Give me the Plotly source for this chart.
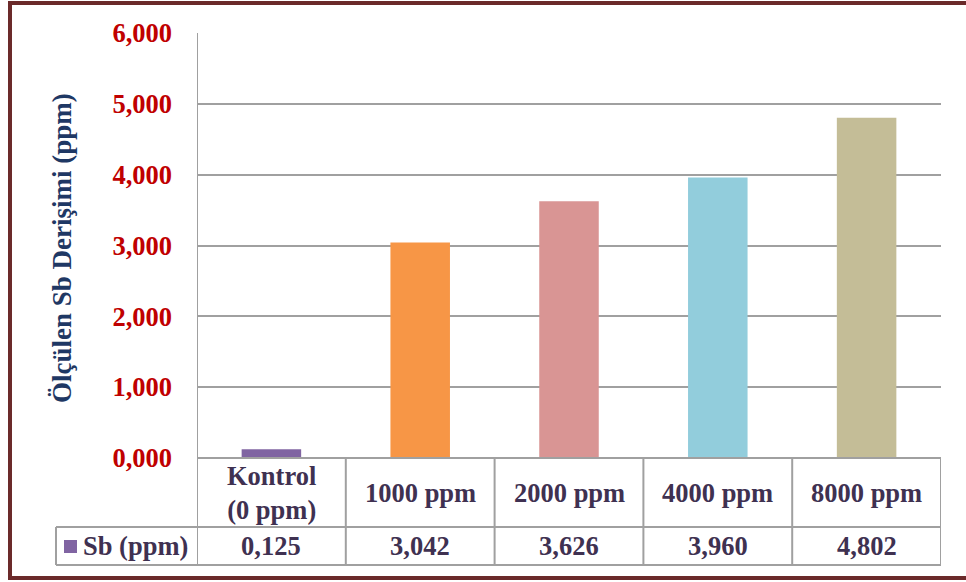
import plotly.graph_objects as go

# Measured antimony (Sb) concentrations per treatment
categories = ["Kontrol<br>(0 ppm)", "1000 ppm", "2000 ppm", "4000 ppm", "8000 ppm"]
sb_values = [0.125, 3.042, 3.626, 3.960, 4.802]
bar_colors = ["#8064A2", "#F79646", "#D99594", "#92CDDC", "#C4BD97"]
series_name = "Sb (ppm)"
y_title = "Ölçülen Sb Derişimi (ppm)"
y_ticks = [0, 1, 2, 3, 4, 5, 6]

W, H = 966, 582
# plot area in pixels
PX_L, PX_R, PX_T, PX_B = 197, 941, 33, 458
ROW1_B, ROW2_B = 527, 565     # bottom of category row / value row
LEG_L = 56                     # left edge of legend cell

def px(x):
    return x / W

def py(y):
    return 1 - y / H

SERIF = "Liberation Serif, Times New Roman, serif"
GRID = "#A0A0A0"
TXT = "#3F3151"

x_idx = list(range(len(categories)))

fig = go.Figure(
    go.Bar(
        x=x_idx,
        y=sb_values,
        marker=dict(color=bar_colors, line=dict(width=0)),
        width=0.4,
        name=series_name,
        showlegend=False,
        hoverinfo="y",
    )
)

shapes = []
# vertical separators of the category table
for b in [i + 0.5 for i in x_idx]:
    shapes.append(dict(type="line", xref="x", yref="paper", x0=b, x1=b,
                       y0=py(PX_B), y1=py(ROW2_B), line=dict(color=GRID, width=2)))
# left axis line running down through the table
shapes.append(dict(type="line", xref="x", yref="paper", x0=-0.5, x1=-0.5,
                   y0=py(PX_T), y1=py(ROW2_B), line=dict(color=GRID, width=2)))
# horizontal table rules
shapes.append(dict(type="line", xref="x", yref="paper", x0=-0.5, x1=x_idx[-1] + 0.5,
                   y0=py(PX_B), y1=py(PX_B), line=dict(color=GRID, width=2)))
for yy in (ROW1_B, ROW2_B):
    shapes.append(dict(type="line", xref="paper", yref="paper", x0=px(LEG_L), x1=px(PX_R),
                       y0=py(yy), y1=py(yy), line=dict(color=GRID, width=2)))
# left edge of the legend cell
shapes.append(dict(type="line", xref="paper", yref="paper", x0=px(LEG_L), x1=px(LEG_L),
                   y0=py(ROW1_B), y1=py(ROW2_B), line=dict(color=GRID, width=2)))
# legend key square
shapes.append(dict(type="rect", xref="paper", yref="paper", x0=px(64), x1=px(77),
                   y0=py(553), y1=py(540), fillcolor=bar_colors[0], line=dict(width=0)))
# outer frame
shapes.append(dict(type="rect", xref="paper", yref="paper", x0=px(10), x1=px(W + 10),
                   y0=py(578), y1=py(3), line=dict(color="#6B2A2A", width=4),
                   fillcolor="rgba(0,0,0,0)", layer="above"))

annotations = []
font_tbl = dict(family=SERIF, size=26.5, color=TXT)


def bold(s):
    return "<br>".join(f"<b>{part}</b>" for part in s.split("<br>"))


for i, (c, v) in enumerate(zip(categories, sb_values)):
    annotations.append(dict(x=i, y=py((PX_B + ROW1_B) / 2), xref="x", yref="paper",
                            text=bold(c), showarrow=False, font=font_tbl,
                            xanchor="center", yanchor="middle"))
    annotations.append(dict(x=i, y=py((ROW1_B + ROW2_B) / 2), xref="x", yref="paper",
                            text=bold(f"{v:.3f}".replace(".", ",")), showarrow=False,
                            font=font_tbl, xanchor="center", yanchor="middle"))
annotations.append(dict(x=px(81), y=py((ROW1_B + ROW2_B) / 2), xref="paper", yref="paper",
                        text=bold(series_name), showarrow=False, font=font_tbl,
                        xanchor="left", yanchor="middle"))
annotations.append(dict(x=px(62), y=py(248), xref="paper", yref="paper",
                        text=bold(y_title), textangle=-90, showarrow=False,
                        font=dict(family=SERIF, size=27, color="#1F3864"),
                        xanchor="center", yanchor="middle"))

fig.update_layout(
    template="none",
    width=W,
    height=H,
    autosize=False,
    margin=dict(l=0, r=0, t=0, b=0, pad=0),
    paper_bgcolor="white",
    plot_bgcolor="white",
    separators=",.",
    showlegend=False,
    xaxis=dict(
        domain=[px(PX_L), px(PX_R)],
        range=[-0.5, len(categories) - 0.5],
        showticklabels=False,
        showgrid=False,
        zeroline=False,
        showline=False,
        ticks="",
        automargin=False,
        fixedrange=True,
    ),
    yaxis=dict(
        domain=[py(PX_B), py(PX_T)],
        range=[0, 6],
        tickvals=y_ticks,
        tickformat=".3f",
        showgrid=True,
        gridcolor=GRID,
        gridwidth=2,
        zeroline=False,
        showline=False,
        ticks="",
        ticklabelstandoff=24,
        automargin=False,
        tickfont=dict(family=SERIF, size=26.5, color="#C00000", weight="bold"),
        fixedrange=True,
    ),
    shapes=shapes,
    annotations=annotations,
)

fig.write_html("out.html")
